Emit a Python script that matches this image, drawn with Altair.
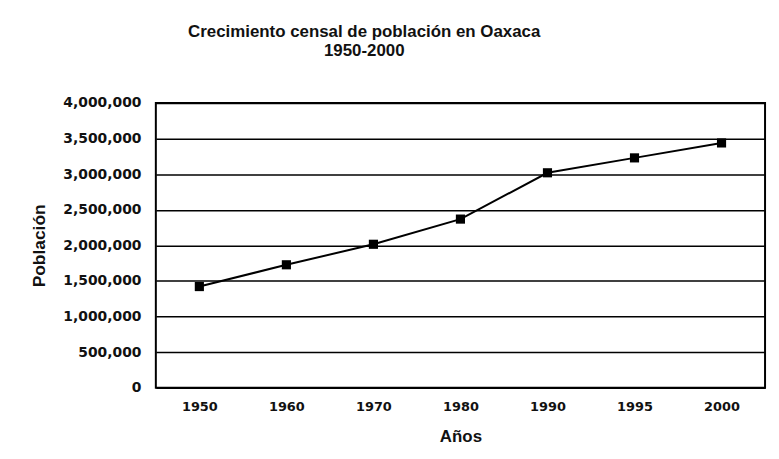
import altair as alt
import pandas as pd

years = ["1950", "1960", "1970", "1980", "1990", "1995", "2000"]
population = [1421313, 1727266, 2015424, 2369076, 3019560, 3228895, 3438765]
y_ticks = [0, 500000, 1000000, 1500000, 2000000, 2500000, 3000000, 3500000, 4000000]

df = pd.DataFrame({"year": years, "pop": population})

FONT = "Liberation Sans"
LABEL_FONT = "DejaVu Sans"

x = alt.X(
    "year:N",
    sort=years,
    scale=alt.Scale(paddingInner=0, paddingOuter=0),
    axis=alt.Axis(
        title="Años",
        labelAngle=0,
        labelFont=LABEL_FONT,
        labelFontSize=13,
        labelFontWeight="bold",
        labelColor="#111",
        labelPadding=13,
        ticks=False,
        domain=False,
        titleFont=FONT,
        titleFontSize=17,
        titleFontWeight="bold",
        titleColor="#111",
        titlePadding=15,
    ),
)
y = alt.Y(
    "pop:Q",
    scale=alt.Scale(domain=[0, 4000000], nice=False),
    axis=alt.Axis(
        title="Población",
        values=y_ticks,
        format=",d",
        labelFont=LABEL_FONT,
        labelFontSize=14,
        labelFontWeight="bold",
        labelColor="#111",
        labelPadding=15,
        ticks=False,
        domain=False,
        grid=True,
        gridColor="#000",
        gridWidth=1.5,
        gridOpacity=1,
        titleFont=FONT,
        titleFontSize=17.5,
        titleFontWeight="bold",
        titleColor="#111",
        titlePadding=14,
    ),
)

line = alt.Chart(df).mark_line(color="#000", strokeWidth=2).encode(x=x, y=y)
pts = alt.Chart(df).mark_point(shape="square", filled=True, color="#000", size=85, opacity=1).encode(x=x, y=y)

chart = (
    (line + pts)
    .properties(
        width=614,
        height=287,
        autosize=alt.AutoSizeParams(type="none"),
        padding={"left": 149, "top": 94, "right": 6, "bottom": 60},
        title=alt.TitleParams(
            text=["Crecimiento censal de población en Oaxaca", "1950-2000"],
            font=FONT,
            fontSize=17,
            fontWeight="bold",
            color="#111",
            anchor="middle",
            dx=-97,
            offset=36,
            lineHeight=20,
        ),
    )
    .configure(background="white")
    .configure_view(stroke="#000", strokeWidth=2)
)

chart.save("out.html", embed_options={"renderer": "svg", "actions": False})
